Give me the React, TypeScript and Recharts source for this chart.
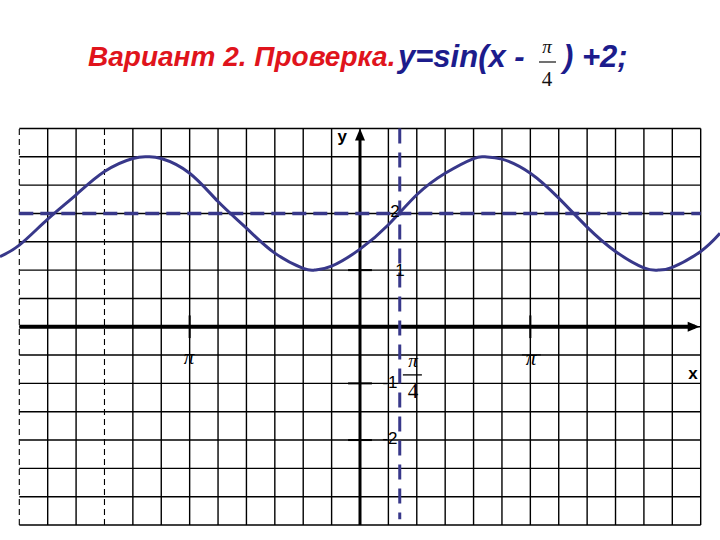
import { LineChart, Line, XAxis, YAxis, ReferenceLine, ReferenceDot } from "recharts";

// x is counted in grid cells, one cell = π/6; y in function units (one unit = two cells)
const xSteps = [-12.68, -12, -11, -10, -9, -8, -7.5, -7, -6, -5, -4, -3, -2, -1.6, -1, 0, 1, 2, 3, 4, 4.4, 5, 6, 7, 8, 9, 10, 10.5, 11, 12, 12.68];
const yValues = [1.24, 1.44, 1.9, 2.33, 2.74, 2.97, 3.0, 2.97, 2.71, 2.21, 1.74, 1.3, 1.03, 1.0, 1.07, 1.37, 1.8, 2.33, 2.71, 2.97, 3.0, 2.96, 2.71, 2.27, 1.76, 1.33, 1.04, 1.0, 1.05, 1.33, 1.65];

const gridCols = [-12, -11, -10, -9, -8, -7, -6, -5, -4, -3, -2, -1, 0, 1, 2, 3, 4, 5, 6, 7, 8, 9, 10, 11, 12];
const dashedCols = [-12, -9];
const gridRows = [-3.5, -3, -2.5, -2, -1.5, -1, -0.5, 0, 0.5, 1, 1.5, 2, 2.5, 3, 3.5];

const yTickValues = [1, -1, -2];
const xTickValues = [-6, 6];
const midLine = 2;
const shiftX = 1.4; // π/4 as drawn

const NAVY = "#38388a";
const data = xSteps.map((x, i) => ({ x, y: yValues[i] }));

const txt =
  (label: string, style: Record<string, any> = {}) =>
  (p: any) =>
    (
      <text
        x={p.cx}
        y={p.cy}
        textAnchor="middle"
        dominantBaseline="central"
        fontFamily="'Liberation Sans', Arial, sans-serif"
        fontSize={17}
        fill="#000"
        {...style}
      >
        {label}
      </text>
    );

const piStyle = { fontFamily: "'Liberation Serif', 'Times New Roman', serif", fontStyle: "italic", fontSize: 21 };

export default function App() {
  return (
    <div style={{ position: "absolute", left: 0, top: 0, width: 720, height: 540, background: "#fff" }}>
      <svg width={720} height={110} style={{ position: "absolute", left: 0, top: 0 }}>
        <text x={88} y={66} fontFamily="'Liberation Sans', Arial, sans-serif" fontWeight="bold" fontStyle="italic" fontSize={28} fill="#e0141c">
          Вариант 2. Проверка.
        </text>
        <text x={398} y={67} fontFamily="'Liberation Sans', Arial, sans-serif" fontWeight="bold" fontStyle="italic" fontSize={31} fill="#1c1c8c">
          y=sin(x -
        </text>
        <text x={547} y={53} textAnchor="middle" fontFamily="'Liberation Serif', serif" fontStyle="italic" fontSize={19} fill="#111">π</text>
        <line x1={539} x2={556} y1={62} y2={62} stroke="#111" strokeWidth={1.2} />
        <text x={547} y={86} textAnchor="middle" fontFamily="'Liberation Serif', serif" fontSize={21} fill="#111">4</text>
        <text x={563} y={67} fontFamily="'Liberation Sans', Arial, sans-serif" fontWeight="bold" fontStyle="italic" fontSize={31} fill="#1c1c8c">
          ) +2;
        </text>
      </svg>
      <LineChart width={720} height={540} data={data} margin={{ top: 128.5, right: 0, bottom: 15, left: 0 }}>
        <XAxis type="number" dataKey="x" domain={[-12.68, 12.68]} hide allowDataOverflow />
        <YAxis type="number" domain={[-3.5, 3.5]} hide allowDataOverflow />

        {gridCols.map((c) => (
          <ReferenceLine
            key={`c${c}`}
            segment={[{ x: c, y: -3.5 }, { x: c, y: 3.5 }]}
            stroke="#000"
            strokeWidth={dashedCols.includes(c) ? 1.1 : 1.4}
            strokeDasharray={dashedCols.includes(c) ? "6 4" : undefined}
          />
        ))}
        {gridRows.map((r) => (
          <ReferenceLine key={`r${r}`} segment={[{ x: -12, y: r }, { x: 12, y: r }]} stroke="#000" strokeWidth={1.4} />
        ))}

        {/* axes */}
        <ReferenceLine segment={[{ x: -12, y: 0 }, { x: 11.8, y: 0 }]} stroke="#000" strokeWidth={4} />
        <ReferenceLine segment={[{ x: 0, y: -3.5 }, { x: 0, y: 3.3 }]} stroke="#000" strokeWidth={3} />
        <ReferenceDot
          x={12}
          y={0}
          r={1}
          shape={(p: any) => (
            <polygon points={`${p.cx - 1},${p.cy} ${p.cx - 13},${p.cy - 5} ${p.cx - 13},${p.cy + 5}`} fill="#000" />
          )}
        />
        <ReferenceDot
          x={0}
          y={3.5}
          r={1}
          shape={(p: any) => (
            <polygon points={`${p.cx},${p.cy} ${p.cx - 5},${p.cy + 12} ${p.cx + 5},${p.cy + 12}`} fill="#000" />
          )}
        />

        {xTickValues.map((t) => (
          <ReferenceLine key={`xt${t}`} segment={[{ x: t, y: -0.2 }, { x: t, y: 0.2 }]} stroke="#000" strokeWidth={2} />
        ))}
        {yTickValues.map((t) => (
          <ReferenceLine key={`yt${t}`} segment={[{ x: -0.42, y: t }, { x: 0.42, y: t }]} stroke="#000" strokeWidth={2} />
        ))}

        {/* labels */}
        <ReferenceDot x={-0.63} y={3.35} r={1} shape={txt("y", { fontWeight: "bold", fontSize: 17 })} />
        <ReferenceDot x={11.73} y={-0.83} r={1} shape={txt("x", { fontWeight: "bold", fontSize: 17 })} />
        <ReferenceDot x={1.23} y={2.04} r={1} shape={txt("2")} />
        <ReferenceDot x={1.41} y={0.99} r={1} shape={txt("1")} />
        <ReferenceDot x={1.05} y={-0.98} r={1} shape={txt("-1")} />
        <ReferenceDot x={1.05} y={-1.97} r={1} shape={txt("-2")} />
        <ReferenceDot x={-6.02} y={-0.53} r={1} shape={txt("π", piStyle)} />
        <ReferenceDot
          x={6.02}
          y={-0.55}
          r={1}
          shape={(p: any) => (
            <g>
              {txt("π", piStyle)(p)}
              <line x1={p.cx - 9} x2={p.cx + 10} y1={p.cy - 3} y2={p.cy - 3} stroke="#000" strokeWidth={1} />
            </g>
          )}
        />
        <ReferenceDot x={1.87} y={-0.59} r={1} shape={txt("π", { ...piStyle, fontSize: 19 })} />
        <ReferenceLine segment={[{ x: 1.51, y: -0.85 }, { x: 2.18, y: -0.85 }]} stroke="#000" strokeWidth={1.3} />
        <ReferenceDot x={1.87} y={-1.14} r={1} shape={txt("4", { fontFamily: "'Liberation Serif', serif", fontSize: 21 })} />

        {/* guide lines */}
        <ReferenceLine segment={[{ x: -12, y: midLine }, { x: 12, y: midLine }]} stroke={NAVY} strokeWidth={3.5} strokeDasharray="14 7" />
        <ReferenceLine segment={[{ x: shiftX, y: 3.5 }, { x: shiftX, y: -3.4 }]} stroke={NAVY} strokeWidth={3} strokeDasharray="15 9" />

        <Line type="natural" dataKey="y" stroke={NAVY} strokeWidth={3} dot={false} isAnimationActive={false} />
      </LineChart>
    </div>
  );
}
